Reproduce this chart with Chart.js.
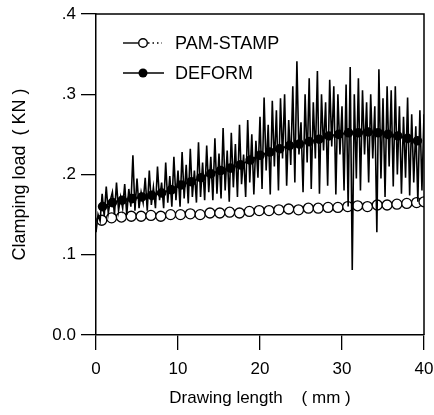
<!DOCTYPE html>
<html>
<head>
<meta charset="utf-8">
<script src="https://cdn.jsdelivr.net/npm/chart.js@4.4.0/dist/chart.umd.min.js"></script>
<style>
  html, body { margin: 0; padding: 0; background: #fff; }
</style>
</head>
<body>
<canvas id="chart" width="434" height="415"></canvas>
<script>
// ---------------- data ----------------
// DEFORM raw (oscillating) trace, mm / kN
const deformRawX = [
  0,0.25,0.5,0.75,1,1.25,1.5,1.75,2,2.25,2.5,2.75,3,3.25,3.5,3.75,4,4.25,4.5,4.75,
  5,5.25,5.5,5.75,6,6.25,6.5,6.75,7,7.25,7.5,7.75,8,8.25,8.5,8.75,9,9.25,9.5,9.75,
  10,10.25,10.5,10.75,11,11.25,11.5,11.75,12,12.25,12.5,12.75,13,13.25,13.5,13.75,14,14.25,14.5,14.75,
  15,15.25,15.5,15.75,16,16.25,16.5,16.75,17,17.25,17.5,17.75,18,18.25,18.5,18.75,19,19.25,19.5,19.75,
  20,20.25,20.5,20.75,21,21.25,21.5,21.75,22,22.25,22.5,22.75,23,23.25,23.5,23.75,24,24.25,24.5,24.75,
  25,25.25,25.5,25.75,26,26.25,26.5,26.75,27,27.25,27.5,27.75,28,28.25,28.5,28.75,29,29.25,29.5,29.75,
  30,30.25,30.5,30.75,31,31.25,31.5,31.75,32,32.25,32.5,32.75,33,33.25,33.5,33.75,34,34.25,34.5,34.75,
  35,35.25,35.5,35.75,36,36.25,36.5,36.75,37,37.25,37.5,37.75,38,38.25,38.5,38.75,39,39.25,39.5,39.75,
  40
];
const deformRawY = [
  0.128,0.150,0.142,0.176,0.148,0.185,0.152,0.168,0.178,
  0.150,0.190,0.155,0.172,0.158,0.188,0.150,0.182,
  0.160,0.224,0.155,0.195,0.158,0.178,0.165,0.196,
  0.155,0.205,0.162,0.184,0.158,0.210,0.168,0.190,
  0.158,0.215,0.165,0.198,0.160,0.222,0.168,0.205,
  0.160,0.228,0.170,0.212,0.164,0.232,0.172,0.205,
  0.165,0.240,0.172,0.215,0.168,0.236,0.178,0.222,
  0.168,0.245,0.176,0.226,0.170,0.258,0.180,0.230,
  0.166,0.252,0.184,0.238,0.172,0.262,0.188,0.225,
  0.172,0.268,0.190,0.250,0.175,0.242,0.196,0.272,
  0.182,0.296,0.205,0.262,0.175,0.292,0.210,0.280,
  0.180,0.295,0.220,0.300,0.186,0.268,0.212,0.310,
  0.190,0.341,0.225,0.265,0.178,0.300,0.215,0.320,
  0.182,0.290,0.220,0.329,0.176,0.300,0.230,0.290,
  0.186,0.318,0.235,0.310,0.175,0.300,0.225,0.285,
  0.180,0.312,0.160,0.334,0.081,0.300,0.195,0.320,
  0.180,0.305,0.225,0.290,0.190,0.300,0.220,0.285,
  0.128,0.331,0.195,0.295,0.172,0.310,0.210,0.305,
  0.185,0.310,0.200,0.285,0.176,0.272,0.196,0.296,
  0.174,0.275,0.190,0.260,0.166,0.280,0.180,0.275
];

// DEFORM marker points (filled circles)
const deformX = [0.8,2.0,3.2,4.4,5.6,6.8,8.0,9.2,10.4,11.6,12.8,14.0,15.2,16.4,17.6,18.8,20.0,
  21.2,22.4,23.6,24.8,26.0,27.2,28.4,29.6,30.8,32.0,33.2,34.4,35.6,36.8,38.0,39.2];
const deformY = [0.160,0.165,0.168,0.170,0.172,0.174,0.177,0.181,0.187,0.191,0.196,0.201,0.205,0.208,0.212,0.218,0.224,
  0.228,0.232,0.236,0.238,0.241,0.244,0.248,0.250,0.252,0.252,0.253,0.252,0.250,0.248,0.245,0.242];

// PAM-STAMP (open circles)
const pamX = [0.7,1.9,3.1,4.3,5.5,6.7,7.9,9.1,10.3,11.5,12.7,13.9,15.1,16.3,17.5,18.7,19.9,
  21.1,22.3,23.5,24.7,25.9,27.1,28.3,29.5,30.7,31.9,33.1,34.3,35.5,36.7,37.9,39.1,40];
const pamY = [0.143,0.146,0.147,0.148,0.148,0.149,0.148,0.150,0.150,0.151,0.150,0.152,0.152,0.153,0.152,0.154,0.155,
  0.155,0.156,0.157,0.156,0.158,0.158,0.159,0.159,0.160,0.161,0.160,0.162,0.162,0.163,0.164,0.165,0.166];

const legendNames = ["PAM-STAMP", "DEFORM"];
const xTitle = "Drawing length    ( mm )";
const yTitle = "Clamping load  ( KN )";

const FONT = "'Liberation Sans', Arial, sans-serif";

function pts(xs, ys) {
  return xs.map((x, i) => ({ x, y: ys[i] }));
}

// ---------------- plugins ----------------
const framePlugin = {
  id: "frame",
  afterDatasetsDraw(chart) {
    const { ctx, chartArea: a } = chart;
    ctx.save();
    ctx.strokeStyle = "#000";
    ctx.lineWidth = 1.5;
    ctx.beginPath();
    ctx.moveTo(a.left, a.top);
    ctx.lineTo(a.right, a.top);
    ctx.lineTo(a.right, a.bottom);
    ctx.stroke();
    ctx.restore();
  }
};

const legendPlugin = {
  id: "hand-legend",
  afterDraw(chart) {
    const ctx = chart.ctx;
    ctx.save();
    ctx.strokeStyle = "#000";
    ctx.fillStyle = "#000";
    ctx.lineWidth = 1.4;

    // PAM-STAMP row
    let y = 43;
    ctx.beginPath();
    ctx.moveTo(123, y); ctx.lineTo(138, y);
    ctx.stroke();
    ctx.setLineDash([1.5, 3]);
    ctx.beginPath();
    ctx.moveTo(148, y); ctx.lineTo(162, y);
    ctx.stroke();
    ctx.setLineDash([]);
    ctx.beginPath();
    ctx.arc(143, y, 4.3, 0, Math.PI * 2);
    ctx.fillStyle = "#fff";
    ctx.fill();
    ctx.stroke();

    // DEFORM row
    y = 73;
    ctx.fillStyle = "#000";
    ctx.beginPath();
    ctx.moveTo(123, y); ctx.lineTo(164, y);
    ctx.stroke();
    ctx.beginPath();
    ctx.arc(143, y, 4.5, 0, Math.PI * 2);
    ctx.fill();

    ctx.font = "18px " + FONT;
    ctx.textBaseline = "middle";
    ctx.textAlign = "left";
    ctx.fillText(legendNames[0], 175, 44);
    ctx.fillText(legendNames[1], 175, 74);
    ctx.restore();
  }
};

// ---------------- chart ----------------
new Chart(document.getElementById("chart"), {
  type: "line",
  data: {
    datasets: [
      {
        label: "DEFORM raw",
        data: pts(deformRawX, deformRawY),
        borderColor: "#000",
        borderWidth: 1.6,
        pointRadius: 0,
        tension: 0
      },
      {
        label: legendNames[1],
        data: pts(deformX, deformY),
        borderColor: "#000",
        backgroundColor: "#000",
        borderWidth: 2,
        pointRadius: 3.8,
        pointBackgroundColor: "#000",
        tension: 0
      },
      {
        label: legendNames[0],
        data: pts(pamX, pamY),
        borderColor: "#000",
        borderWidth: 1,
        pointRadius: 5,
        pointBorderWidth: 1.3,
        pointBackgroundColor: "#fff",
        pointBorderColor: "#000",
        tension: 0
      }
    ]
  },
  options: {
    responsive: false,
    animation: false,
    layout: { padding: { left: 0, right: 10, top: 14, bottom: 0 } },
    plugins: {
      legend: { display: false },
      tooltip: { enabled: false }
    },
    scales: {
      x: {
        type: "linear",
        min: 0,
        max: 40,
        afterFit: s => { s.height = 80; s.paddingRight = 0; s.paddingLeft = 0; },
        ticks: {
          stepSize: 10,
          color: "#000",
          padding: 9,
          maxRotation: 0,
          font: { size: 17, family: FONT }
        },
        grid: {
          drawOnChartArea: false,
          drawTicks: true,
          tickLength: 15,
          color: "#000",
          lineWidth: 1.3
        },
        border: { display: true, color: "#000", width: 1.5 },
        title: {
          display: true,
          text: xTitle,
          color: "#000",
          font: { size: 17, family: FONT },
          padding: { top: 0, bottom: 6 }
        }
      },
      y: {
        min: 0,
        max: 0.4,
        afterFit: s => { s.width = 96; s.paddingTop = 0; },
        ticks: {
          stepSize: 0.1,
          color: "#000",
          padding: 5,
          font: { size: 17, family: FONT },
          callback: v => {
            const n = Math.round(v * 10);
            return n === 0 ? "0.0" : "." + n;
          }
        },
        grid: {
          drawOnChartArea: false,
          drawTicks: true,
          tickLength: 15,
          color: "#000",
          lineWidth: 1.3
        },
        border: { display: true, color: "#000", width: 1.5 },
        title: {
          display: true,
          text: yTitle,
          color: "#000",
          font: { size: 18, family: FONT },
          padding: { top: 9, bottom: 0 }
        }
      }
    }
  },
  plugins: [framePlugin, legendPlugin]
});
</script>
</body>
</html>
